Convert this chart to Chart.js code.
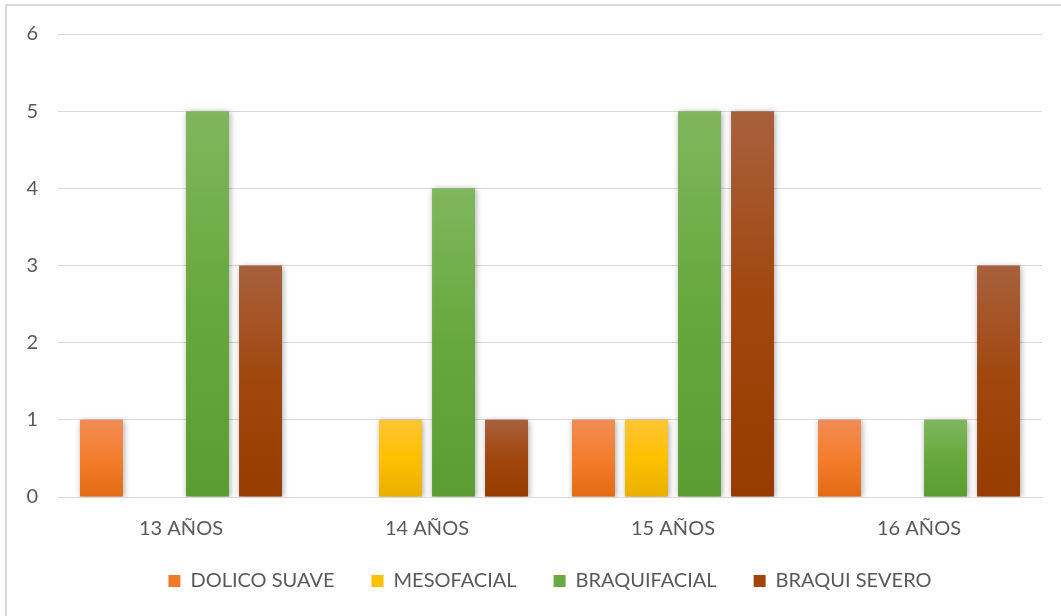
<!DOCTYPE html>
<html>
<head>
<meta charset="utf-8">
<script src="https://cdn.jsdelivr.net/npm/chart.js@4/dist/chart.umd.min.js"></script>
<style>
    html, body { margin: 0; padding: 0; background: #fff; }
    #frame { position: absolute; left: 5px; top: 4px; width: 1060px; height: 616px; border: 2px solid #d9d9d9; box-sizing: border-box; }
    #wrap { position: absolute; left: 0; top: 0; width: 1061px; height: 616px; }
</style>
</head>
<body>
<div id="frame"></div>
<div id="wrap"><canvas id="chart"></canvas></div>
<script>
const categories = ['13 AÑOS', '14 AÑOS', '15 AÑOS', '16 AÑOS'];
const dolicoSuave = [1, 0, 1, 1];
const mesofacial = [0, 1, 1, 0];
const braquifacial = [5, 4, 5, 1];
const braquiSevero = [3, 1, 5, 3];
const yTicks = [0, 1, 2, 3, 4, 5, 6];

const TEXT = '#595959';
const FONT = 'Lato, "Open Sans", sans-serif';

// vertical gradient per bar, top -> bottom
function barFill(top, mid, bottom) {
    return ctx => {
        const chart = ctx.chart;
        const y = chart.scales.y;
        if (!y || ctx.type !== 'data') return mid;
        const yTop = y.getPixelForValue(ctx.raw);
        const yBase = y.getPixelForValue(0);
        if (!isFinite(yTop) || yTop === yBase) return mid;
        const g = chart.ctx.createLinearGradient(0, yTop, 0, yBase);
        g.addColorStop(0, top);
        g.addColorStop(0.5, mid);
        g.addColorStop(1, bottom);
        return g;
    };
}

const series = [
    { label: 'DOLICO SUAVE', data: dolicoSuave, c: ['#f08c55', '#f47d2c', '#e26b14'], legend: '#ef7a2a' },
    { label: 'MESOFACIAL', data: mesofacial, c: ['#ffc535', '#ffc000', '#e8b000'], legend: '#ffc000' },
    { label: 'BRAQUIFACIAL', data: braquifacial, c: ['#80b65e', '#67a83c', '#5c9d31'], legend: '#6aaa40' },
    { label: 'BRAQUI SEVERO', data: braquiSevero, c: ['#a8613d', '#a1460d', '#973c00'], legend: '#a0450c' },
];

// soft shadow under bars
const shadowPlugin = {
    id: 'barShadow',
    beforeDatasetsDraw(chart) {
        const c = chart.ctx;
        c.save();
        c.shadowColor = 'rgba(0,0,0,0.35)';
        c.shadowBlur = 6;
        c.shadowOffsetX = 1;
        c.shadowOffsetY = 1;
    },
    afterDatasetsDraw(chart) {
        chart.ctx.restore();
    }
};

// centre the legend under the plot area and nudge it up a little
const legendShift = {
    id: 'legendShift',
    afterLayout(chart) {
        const lg = chart.legend;
        if (!lg) return;
        const dx = (chart.chartArea.left + chart.chartArea.right) / 2 - (lg.left + lg.right) / 2;
        lg.left += dx;
        lg.right += dx;
        lg.top -= 6;
        lg.bottom -= 6;
    }
};

new Chart(document.getElementById('chart'), {
    type: 'bar',
    data: {
        labels: categories,
        datasets: series.map(s => ({
            label: s.label,
            data: s.data,
            backgroundColor: barFill(s.c[0], s.c[1], s.c[2]),
            borderWidth: 0,
            categoryPercentage: 0.862,
            barPercentage: 0.81,
            legendColor: s.legend,
        }))
    },
    options: {
        responsive: true,
        maintainAspectRatio: false,
        animation: false,
        layout: { padding: { top: 34, right: 19, left: 0, bottom: 9 } },
        plugins: {
            tooltip: { enabled: false },
            legend: {
                position: 'bottom',
                labels: {
                    color: TEXT,
                    font: { family: FONT, size: 20 },
                    boxWidth: 12,
                    boxHeight: 12,
                    padding: 37,
                    generateLabels: chart => chart.data.datasets.map((d, i) => ({
                        text: d.label,
                        fillStyle: d.legendColor,
                        strokeStyle: d.legendColor,
                        lineWidth: 0,
                        fontColor: TEXT,
                        datasetIndex: i,
                        hidden: false,
                    }))
                }
            }
        },
        scales: {
            x: {
                grid: { display: false, drawTicks: false },
                border: { display: true, color: '#d9d9d9', width: 1 },
                ticks: { color: TEXT, font: { family: FONT, size: 20 }, padding: 20 },
                afterFit: s => { s.height = 43; }
            },
            y: {
                min: 0,
                max: 6,
                afterBuildTicks: s => { s.ticks = yTicks.map(v => ({ value: v })); },
                grid: { color: '#d9d9d9', lineWidth: 1, drawTicks: false },
                border: { display: false },
                ticks: { color: TEXT, font: { family: FONT, size: 20 }, padding: 20 },
                afterFit: s => { s.width = 58; }
            }
        }
    },
    plugins: [shadowPlugin, legendShift]
});
</script>
</body>
</html>
